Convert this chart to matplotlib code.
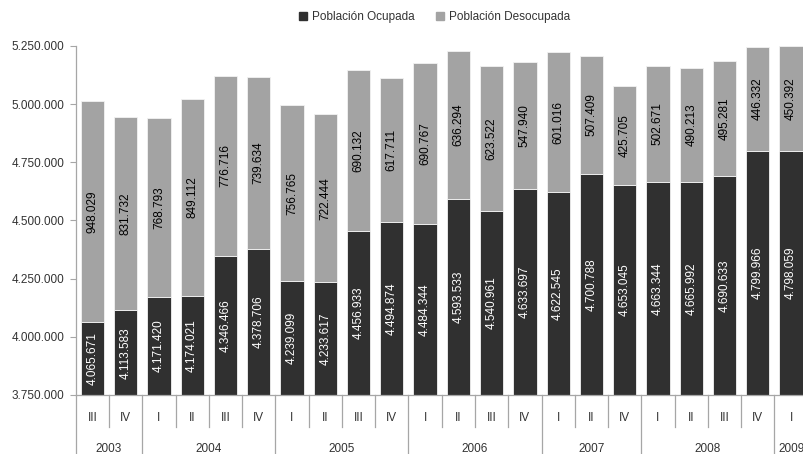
"""Stacked quarterly bars of employed vs. unemployed population, 2003-2009."""
import matplotlib.pyplot as plt
import numpy as np
from matplotlib.patches import Patch
from matplotlib.ticker import FuncFormatter
from matplotlib.transforms import blended_transform_factory

plt.rcParams["font.family"] = ["Liberation Sans", "DejaVu Sans"]

quarters = ["III", "IV", "I", "II", "III", "IV", "I", "II", "III", "IV",
            "I", "II", "III", "IV", "I", "II", "IV", "I", "II", "III", "IV", "I"]
years = ["2003", "2003", "2004", "2004", "2004", "2004", "2005", "2005", "2005", "2005",
         "2006", "2006", "2006", "2006", "2007", "2007", "2007",
         "2008", "2008", "2008", "2008", "2009"]
ocupada = [4065671, 4113583, 4171420, 4174021, 4346466, 4378706, 4239099, 4233617,
           4456933, 4494874, 4484344, 4593533, 4540961, 4633697, 4622545, 4700788,
           4653045, 4663344, 4665992, 4690633, 4799966, 4798059]
desocupada = [948029, 831732, 768793, 849112, 776716, 739634, 756765, 722444,
              690132, 617711, 690767, 636294, 623522, 547940, 601016, 507409,
              425705, 502671, 490213, 495281, 446332, 450392]
y_ticks = [3750000, 4000000, 4250000, 4500000, 4750000, 5000000, 5250000]

DARK = "#303030"
LIGHT = "#a3a3a3"
AXIS = "#a6a6a6"
TEXT = "#333333"
Y_MIN, Y_MAX = 3750000, 5250000


def fmt(v):
    return f"{int(v):,}".replace(",", ".")


fig = plt.figure(figsize=(8.04, 4.54), dpi=100)
ax = fig.add_axes([75.7 / 804, 59 / 454, 732 / 804, 349 / 454])

x = np.arange(len(quarters))
occ = np.array(ocupada)
unemp = np.array(desocupada)
ax.bar(x, occ - Y_MIN, bottom=Y_MIN, width=0.7, color=DARK,
       edgecolor="#f2f2f2", linewidth=0.6, zorder=2)
ax.bar(x, unemp, bottom=occ, width=0.7, color=LIGHT,
       edgecolor="#f2f2f2", linewidth=0.6, zorder=2)

# value labels, rotated, centred in each segment
for i in range(len(x)):
    ax.text(x[i], (Y_MIN + occ[i]) / 2, fmt(occ[i]), rotation=90,
            ha="center", va="center", color="white", fontsize=8.5, zorder=3)
    ax.text(x[i], occ[i] + unemp[i] / 2, fmt(unemp[i]), rotation=90,
            ha="center", va="center", color="black", fontsize=8.5, zorder=3)

ax.set_xlim(-0.5, len(x) - 0.5)
ax.set_ylim(Y_MIN, Y_MAX)
ax.set_yticks(y_ticks)
ax.yaxis.set_major_formatter(FuncFormatter(lambda v, _: fmt(v)))
ax.tick_params(axis="y", length=4, width=0.8, color=AXIS, labelcolor=TEXT,
               labelsize=8.5, pad=4)
ax.set_xticks([])
for side in ("top", "right"):
    ax.spines[side].set_visible(False)
for side in ("left", "bottom"):
    ax.spines[side].set_color(AXIS)
    ax.spines[side].set_linewidth(0.9)

# two-level category axis: quarters, then years
trans = blended_transform_factory(ax.transData, ax.transAxes)
quarter_depth = -32 / 349
year_depth = -62 / 349
for i, q in enumerate(quarters):
    ax.text(i, -23 / 349, q, transform=trans, ha="center", va="center",
            fontsize=8.5, color=TEXT)

bounds = [0]
for i in range(1, len(years)):
    if years[i] != years[i - 1]:
        bounds.append(i)
bounds.append(len(years))

for i in range(len(years) + 1):
    depth = year_depth if i in bounds else quarter_depth
    ax.plot([i - 0.5, i - 0.5], [0, depth], transform=trans, color=AXIS,
            linewidth=0.9, clip_on=False)

for a, b in zip(bounds[:-1], bounds[1:]):
    ax.text((a + b - 1) / 2, -54 / 349, years[a], transform=trans,
            ha="center", va="center", fontsize=8.5, color=TEXT)

handles = [Patch(color=DARK, label="Población Ocupada"),
           Patch(color=LIGHT, label="Población Desocupada")]
fig.legend(handles=handles, loc="center", bbox_to_anchor=(0.54, 0.962), ncol=2,
           frameon=False, fontsize=8.5, handlelength=0.7, handleheight=0.7,
           handletextpad=0.4, columnspacing=1.8, labelcolor=TEXT)

fig.savefig("out.png", dpi=100)
